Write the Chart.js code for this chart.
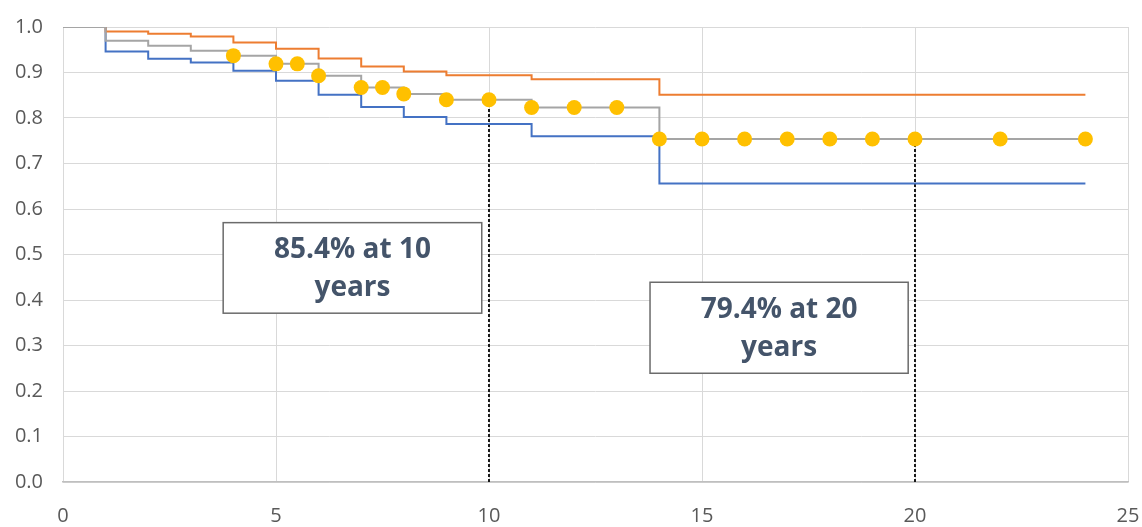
<!DOCTYPE html>
<html>
<head>
<meta charset="utf-8">
<script src="https://cdn.jsdelivr.net/npm/chart.js@4/dist/chart.umd.min.js"></script>
<style>
  html, body { margin: 0; padding: 0; background: #ffffff; }
  #wrap { width: 1142px; height: 527px; }
</style>
</head>
<body>
<div id="wrap"><canvas id="km" width="1142" height="527"></canvas></div>
<script>
// Survival curve: event times (years) shared by the three step curves
const stepYears   = [0, 1, 2, 3, 4, 5, 6, 7, 8, 9, 11, 14, 24];
const upperBound  = [1, 0.990, 0.985, 0.979, 0.966, 0.952, 0.931, 0.913, 0.902, 0.894, 0.885, 0.851, 0.851];
const survival    = [1, 0.970, 0.959, 0.948, 0.937, 0.919, 0.893, 0.867, 0.853, 0.840, 0.823, 0.754, 0.754];
const lowerBound  = [1, 0.946, 0.930, 0.922, 0.904, 0.882, 0.851, 0.824, 0.802, 0.787, 0.760, 0.656, 0.656];

// Censored observations on the survival curve
const censorYears  = [4, 5, 5.5, 6, 7, 7.5, 8, 9, 10, 11, 12, 13, 14, 15, 16, 17, 18, 19, 20, 22, 24];
const censorValues = [0.937, 0.919, 0.919, 0.893, 0.867, 0.867, 0.853, 0.840, 0.840, 0.823, 0.823, 0.823,
                      0.754, 0.754, 0.754, 0.754, 0.754, 0.754, 0.754, 0.754, 0.754];

// Reference markers (year, survival at that year)
const markerYears  = [10, 20];
const markerValues = [0.840, 0.754];

// Axis ticks
const xTicks = [0, 5, 10, 15, 20, 25];
const yTicks = [0, 0.1, 0.2, 0.3, 0.4, 0.5, 0.6, 0.7, 0.8, 0.9, 1.0];

// Callout texts
const callouts = [
  ["85.4% at 10", "years"],
  ["79.4% at 20", "years"]
];

const toPoints = (xs, ys) => xs.map((x, i) => ({ x: x, y: ys[i] }));

const stepLine = (label, ys, color, order) => ({
  label: label,
  data: toPoints(stepYears, ys),
  borderColor: color,
  borderWidth: 2,
  stepped: true,
  pointRadius: 0,
  fill: false,
  order: order
});

const markerSets = markerYears.map((yr, i) => ({
  label: 'marker' + yr,
  data: [{ x: yr, y: 0 }, { x: yr, y: markerValues[i] }],
  borderColor: '#1a1a1a',
  borderWidth: 2,
  borderDash: [3, 2],
  pointRadius: 0,
  fill: false,
  order: 5
}));

// Callout boxes placed in data units: [xMin, xMax, yTop, yBottom]
const calloutBoxes = [
  [3.76, 9.83, 0.570, 0.371],
  [13.78, 19.84, 0.439, 0.239]
];

const calloutPlugin = {
  id: 'callouts',
  afterDraw(chart) {
    const { ctx, scales } = chart;
    const xs = scales.x, ys = scales.y;
    ctx.save();
    calloutBoxes.forEach((b, i) => {
      const l = xs.getPixelForValue(b[0]);
      const r = xs.getPixelForValue(b[1]);
      const t = ys.getPixelForValue(b[2]);
      const btm = ys.getPixelForValue(b[3]);
      ctx.fillStyle = '#ffffff';
      ctx.fillRect(l, t, r - l, btm - t);
      ctx.strokeStyle = '#6b6b6b';
      ctx.lineWidth = 1.5;
      ctx.strokeRect(l, t, r - l, btm - t);
      ctx.fillStyle = '#44546A';
      ctx.font = 'bold 28px "Open Sans", sans-serif';
      ctx.textAlign = 'center';
      ctx.textBaseline = 'middle';
      const cx = (l + r) / 2;
      const h = btm - t;
      ctx.fillText(callouts[i][0], cx, t + h * 0.30);
      ctx.fillText(callouts[i][1], cx, t + h * 0.72);
    });
    ctx.restore();
  }
};

new Chart(document.getElementById('km'), {
  type: 'line',
  data: {
    datasets: [
      {
        label: 'censored',
        data: toPoints(censorYears, censorValues),
        showLine: false,
        pointRadius: 7.5,
        pointHoverRadius: 7.5,
        pointBackgroundColor: '#FFC000',
        pointBorderColor: '#FFC000',
        pointBorderWidth: 0,
        order: 0
      },
      stepLine('survival', survival, '#A5A5A5', 1),
      stepLine('upper', upperBound, '#ED7D31', 2),
      stepLine('lower', lowerBound, '#4472C4', 3),
      ...markerSets
    ]
  },
  options: {
    responsive: false,
    devicePixelRatio: 1,
    animation: false,
    layout: { padding: { top: 27, right: 14, left: 0, bottom: 0 } },
    plugins: {
      legend: { display: false },
      tooltip: { enabled: false }
    },
    scales: {
      x: {
        type: 'linear',
        min: 0,
        max: 25,
        afterBuildTicks(scale) { scale.ticks = xTicks.map(v => ({ value: v })); },
        afterFit(scale) {
          scale.height = 45;
          scale.paddingLeft = 0;
          scale.paddingRight = 0;
        },
        ticks: {
          padding: 22,
          color: '#595959',
          font: { family: '"Open Sans", sans-serif', size: 20 },
          callback: v => String(v)
        },
        grid: { color: '#d9d9d9', lineWidth: 1, drawTicks: false },
        border: { display: true, color: '#bfbfbf', width: 1.5 }
      },
      y: {
        type: 'linear',
        min: 0,
        max: 1,
        afterBuildTicks(scale) { scale.ticks = yTicks.map(v => ({ value: v })); },
        afterFit(scale) {
          scale.width = 63;
          scale.paddingTop = 0;
          scale.paddingBottom = 0;
        },
        ticks: {
          padding: 20,
          color: '#595959',
          font: { family: '"Open Sans", sans-serif', size: 20 },
          callback: v => Number(v).toFixed(1)
        },
        grid: { color: '#d9d9d9', lineWidth: 1, drawTicks: false },
        border: { display: false }
      }
    }
  },
  plugins: [calloutPlugin]
});
</script>
</body>
</html>
